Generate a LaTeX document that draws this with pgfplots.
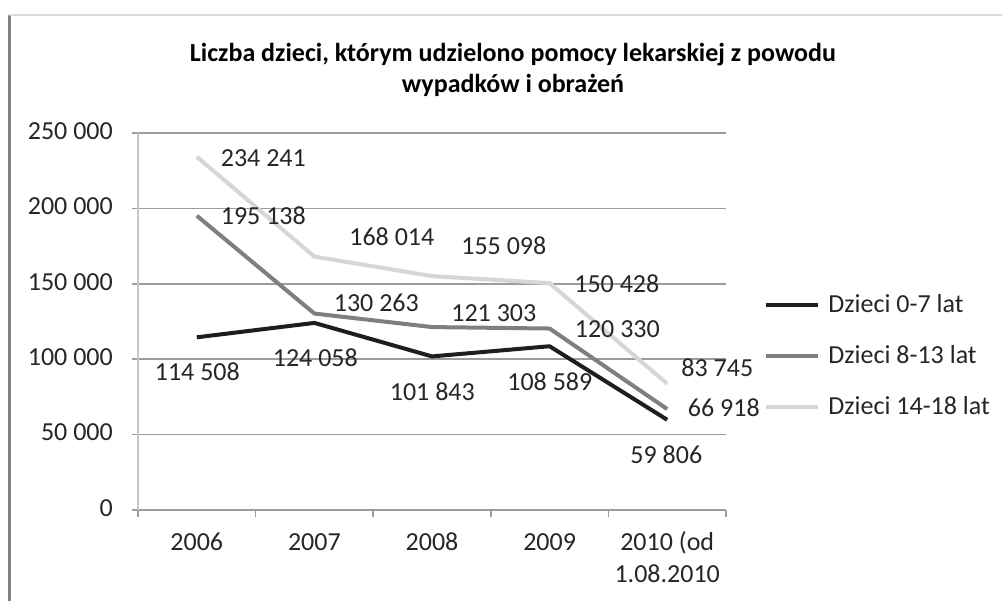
\documentclass[border=0pt]{standalone}
\usepackage{fontspec}
\setmainfont{Carlito}
\usepackage{pgfplots}
\pgfplotsset{compat=1.18}
\definecolor{cA}{HTML}{1E1E1E}
\definecolor{cB}{HTML}{7F7F7F}
\definecolor{cC}{HTML}{D6D6D6}
\definecolor{gridc}{HTML}{9C9C9C}
\definecolor{yax}{HTML}{C8C8C8}
\begin{document}
\fontsize{26bp}{32bp}\selectfont
\begin{tikzpicture}[x=1bp,y=1bp]
\path[use as bounding box] (0,0) rectangle (1002,601);
\fill[white] (0,0) rectangle (1002,601);
\draw[color=black!50, line width=3bp] (9,0) -- (9,586);
\draw[color=black!15, line width=2bp] (9,586) -- (1002,586);
\node[font=\bfseries, anchor=base, inner sep=0pt] at (513,539) {Liczba dzieci, którym udzielono pomocy lekarskiej z powodu};
\node[font=\bfseries, anchor=base, inner sep=0pt] at (513,508) {wypadków i obrażeń};
\begin{axis}[
  at={(138bp,91bp)}, anchor=south west, scale only axis,
  width=588bp, height=377bp,
  xmin=-0.5, xmax=4.5, ymin=0, ymax=250000,
  scaled y ticks=false,
  axis lines=left, axis line style={-},
  x axis line style={gridc, line width=1.5bp},
  y axis line style={yax, line width=1.5bp},
  xtick={0,1,2,3,4},
  xticklabels={2006,2007,2008,2009,{2010 (od\\1.08.2010}},
  typeset ticklabels with strut,
  minor xtick={-0.5,0.5,1.5,2.5,3.5,4.5},
  ytick={0,50000,100000,150000,200000,250000},
  yticklabels={0,50~000,100~000,150~000,200~000,250~000},
  ymajorgrids, major grid style={gridc, line width=1.5bp},
  tick align=outside,
  major x tick style={draw=none},
  minor x tick style={gridc, line width=1.5bp},
  minor tick length=7bp,
  major y tick style={gridc, line width=1.5bp},
  major tick length=6bp,
  tick label style={font=\fontsize{26bp}{32bp}\selectfont, text=black!85},
  yticklabel style={anchor=east, inner sep=0pt, xshift=-19bp},
  xticklabel style={align=center, anchor=north, inner sep=0pt, yshift=-12bp},
  legend style={at={(1.065,0.4085)}, anchor=west, draw=none, fill=none,
    row sep=29bp, column sep=8bp, inner sep=0pt,
    nodes={inner sep=0pt, anchor=west, font=\fontsize{26bp}{32bp}\selectfont, text=black!85}},
  legend cell align=left,
  legend image code/.code={\draw[#1] (0bp,0bp) -- (52bp,0bp);},
  every axis plot/.append style={line width=4bp, line join=round},
  clip=false,
]
\addplot[cA] coordinates {(0,114508)(1,124058)(2,101843)(3,108589)(4,59806)};
\addlegendentry{Dzieci 0-7 lat}
\addplot[cB] coordinates {(0,195138)(1,130263)(2,121303)(3,120330)(4,66918)};
\addlegendentry{Dzieci 8-13 lat}
\addplot[cC] coordinates {(0,234241)(1,168014)(2,155098)(3,150428)(4,83745)};
\addlegendentry{Dzieci 14-18 lat}
\begin{scope}[every node/.style={anchor=center, inner sep=0pt, text=black!85}]
\node[xshift=66.5bp, yshift=-1.2bp] at (axis cs:0,234241) {234~241};
\node[xshift=77.4bp, yshift=19.6bp] at (axis cs:1,168014) {168~014};
\node[xshift=71.8bp, yshift=30.1bp] at (axis cs:2,155098) {155~098};
\node[xshift=67.2bp, yshift=-0.8bp] at (axis cs:3,150428) {150~428};
\node[xshift=50.1bp, yshift=15.7bp] at (axis cs:4,83745) {83~745};
\node[xshift=66.5bp, yshift=-0.3bp] at (axis cs:0,195138) {195~138};
\node[xshift=61.9bp, yshift=10.6bp] at (axis cs:1,130263) {130~263};
\node[xshift=61.8bp, yshift=14.1bp] at (axis cs:2,121303) {121~303};
\node[xshift=67.7bp, yshift=-0.5bp] at (axis cs:3,120330) {120~330};
\node[xshift=56.6bp, yshift=1.1bp] at (axis cs:4,66918) {66~918};
\node[xshift=0.5bp, yshift=-34.7bp] at (axis cs:0,114508) {114~508};
\node[xshift=0.9bp, yshift=-35.1bp] at (axis cs:1,124058) {124~058};
\node[xshift=0.3bp, yshift=-35.6bp] at (axis cs:2,101843) {101~843};
\node[xshift=0.2bp, yshift=-35.8bp] at (axis cs:3,108589) {108~589};
\node[xshift=-0.9bp, yshift=-35.2bp] at (axis cs:4,59806) {59~806};
\end{scope}
\end{axis}
\end{tikzpicture}
\end{document}
